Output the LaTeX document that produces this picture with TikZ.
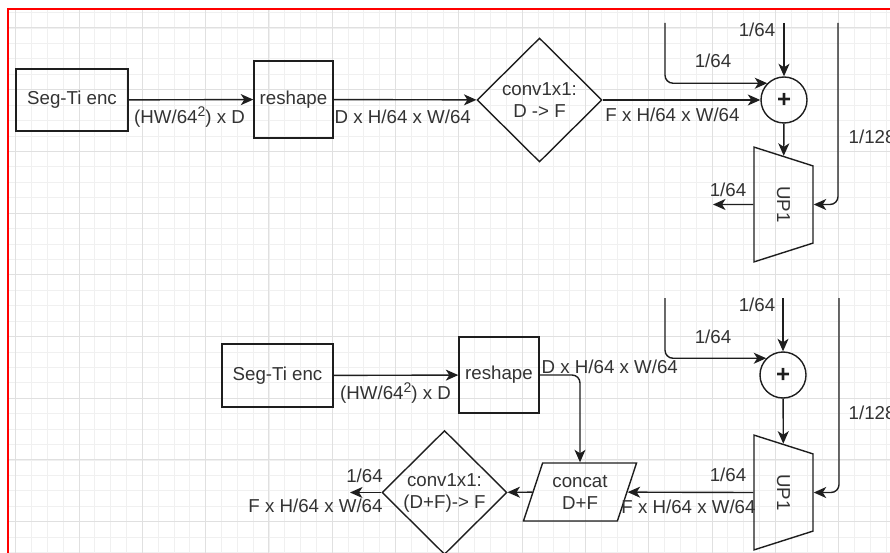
\documentclass[tikz,border=0pt]{standalone}
\usepackage{fontspec}
\setmainfont{Liberation Sans}
\usetikzlibrary{arrows.meta,shapes.geometric}
\definecolor{ink}{HTML}{1E1E1E}
\definecolor{txt}{HTML}{333333}
\definecolor{gridmaj}{HTML}{E0E0E0}
\definecolor{gridmin}{HTML}{F0F0F0}
\newcommand{\sqtwo}{\raisebox{0.62ex}{\fontsize{14}{14}\selectfont 2}}

\begin{document}
\begin{tikzpicture}[x=1pt, y=-1pt, line width=1.4pt,
    font=\fontsize{18.7}{22}\selectfont,
    arr/.style={draw=ink, -{Stealth[length=12.5pt, width=11pt, inset=3.5pt]}},
    elbow/.style={arr, rounded corners=8pt},
    blk/.style={draw=ink, text=txt, rectangle, inner sep=0pt},
    dia/.style={draw=ink, text=txt, diamond, aspect=1, inner sep=0pt, align=center, minimum width=125, minimum height=124},
    upsm/.style={draw=ink, text=txt, trapezium, trapezium angle=62, trapezium stretches=true, rotate=-90, minimum width=115, minimum height=59},
    plus/.style={draw=ink, text=ink, circle, inner sep=0pt, minimum size=46, font=\fontsize{24}{24}\selectfont\bfseries},
    lbl/.style={text=txt, inner sep=0pt}]
\useasboundingbox (0,0) rectangle (890,553);
\fill[white] (0,0) rectangle (890,553);
\foreach \k in {0,...,55}
    \draw[gridmin, line width=0.8pt] ({15.7+15.825*\k},9) -- ++(0,544);
\foreach \k in {0,...,35}
    \draw[gridmin, line width=0.8pt] (8,{12.575+15.425*\k}) -- ++(882,0);
\foreach \k in {0,...,13}
    \draw[gridmaj, line width=1pt] ({15.7+63.3*\k},9) -- ++(0,544);
\foreach \k in {0,...,8}
    \draw[gridmaj, line width=1pt] (8,{28+61.7*\k}) -- ++(882,0);
\draw[red, line width=2.5pt] (8,553) -- (8,9) -- (890,9);

\node[blk, minimum width=112, minimum height=62] (enc1) at (72,100) {Seg-Ti enc};
\node[blk, minimum width=79, minimum height=77] (resh1) at (293.5,99.5) {reshape};
\node[dia] (conv1) at (539.5,100) {conv1x1:\\D -> F};
\node[plus] (plus1) at (784,100) {+};
\node[upsm] (up1) at (783.5,204.5) {UP1};
\coordinate (inA1) at (665,23);
\coordinate (inB1) at (784,23);
\coordinate (inC1) at (838,23);
\coordinate (out1) at (713,204.5);

\draw[arr] (enc1) -- (resh1);
\draw[arr] (resh1) -- (conv1);
\draw[arr] (conv1) -- (plus1);
\draw[arr] (inB1) -- (plus1);
\draw[elbow] (inA1) |- (plus1.135);
\draw[arr] (plus1) -- (up1);
\draw[elbow] (inC1) |- (up1.north);
\draw[arr] (up1.south) -- (out1);

\node[lbl] (lhw1) at (189.5,117) {(HW/64\sqtwo) x D};
\node[lbl, anchor=west] (ldim1) at (334,117) {D x H/64 x W/64};
\node[lbl] (lf1) at (672.5,115) {F x H/64 x W/64};
\node[lbl] (la1) at (713,61) {1/64};
\node[lbl] (lb1) at (757,30) {1/64};
\node[lbl, anchor=west] (lc1) at (848,137) {1/128};
\node[lbl] (lo1) at (728,190) {1/64};

\node[blk, minimum width=111, minimum height=63] (enc2) at (277.5,375.5) {Seg-Ti enc};
\node[blk, minimum width=80, minimum height=76] (resh2) at (499,375) {reshape};
\node[draw=ink, text=txt, trapezium, trapezium left angle=67.5, trapezium right angle=112.5, trapezium stretches=true, minimum width=114, minimum height=58, align=center, inner sep=0pt] (cat) at (580,492) {concat\\D+F};
\node[dia] (conv2) at (444.5,492.5) {conv1x1:\\(D+F)-> F};
\node[plus] (plus2) at (783,375) {+};
\node[upsm] (up2) at (783.5,492.5) {UP1};
\coordinate (inA2) at (665,298);
\coordinate (inB2) at (783,298);
\coordinate (inC2) at (839,298);
\coordinate (out2) at (350,492.5);

\draw[arr] (enc2) -- (resh2);
\draw[elbow] (resh2.east) -| (cat.north);
\draw[arr] (inB2) -- (plus2);
\draw[elbow] (inA2) |- (plus2.135);
\draw[arr] (plus2) -- (up2);
\draw[elbow] (inC2) |- (up2.north);
\draw[arr] (up2.south) -- (cat);
\draw[arr] (cat) -- (conv2);
\draw[arr] (conv2) -- (out2);

\node[lbl] (lhw2) at (395.5,393) {(HW/64\sqtwo) x D};
\node[lbl, anchor=west] (ldim2) at (541,367) {D x H/64 x W/64};
\node[lbl] (la2) at (713,337) {1/64};
\node[lbl] (lb2) at (757,305) {1/64};
\node[lbl, anchor=west] (lc2) at (848,413) {1/128};
\node[lbl] (lo2) at (728,475) {1/64};
\node[lbl] (lf2) at (688.5,507) {F x H/64 x W/64};
\node[lbl] (lo3) at (364.5,476) {1/64};
\node[lbl] (lf3) at (315.5,506) {F x H/64 x W/64};
\end{tikzpicture}
\end{document}
